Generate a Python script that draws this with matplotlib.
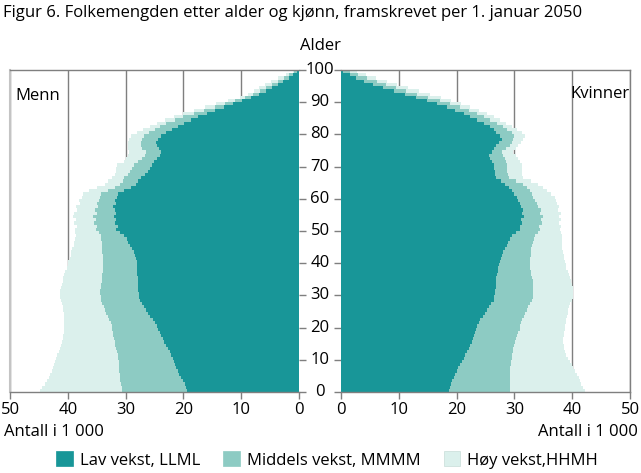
import numpy as np
import matplotlib
matplotlib.use("Agg")
import matplotlib.pyplot as plt
from matplotlib.patches import Patch
from matplotlib.transforms import blended_transform_factory

plt.rcParams['font.family'] = ['Open Sans', 'DejaVu Sans']

# alder 0-99, antall i 1 000
ages = np.arange(100)

menn_lav = [
    19.4, 19.6, 19.8, 20.1, 20.4, 20.7, 21.0, 21.2, 21.4, 21.6,
    21.8, 22.1, 22.4, 22.7, 23.0, 23.3, 23.6, 23.9, 24.1, 24.4,
    24.6, 24.9, 25.3, 25.7, 26.1, 26.5, 26.9, 27.2, 27.5, 27.6,
    27.7, 27.8, 27.8, 27.8, 27.9, 27.9, 28.0, 28.0, 28.0, 28.1,
    28.1, 28.2, 28.4, 28.6, 28.9, 29.2, 29.5, 29.8, 30.2, 30.9,
    31.6, 31.4, 31.8, 31.6, 32.0, 31.7, 31.9, 32.1, 31.6, 31.8,
    31.5, 31.3, 30.2, 29.0, 28.2, 27.8, 27.4, 26.6, 26.2, 25.8,
    25.5, 25.1, 24.6, 24.1, 23.9, 24.2, 24.6, 24.7, 24.4, 23.9,
    23.0, 22.0, 21.0, 19.9, 18.7, 17.4, 16.0, 14.5, 13.0, 11.4,
    9.8, 8.3, 6.9, 5.7, 4.6, 3.6, 2.7, 1.8, 1.1, 0.4]
menn_middels = [
    30.6, 30.7, 30.8, 30.9, 31.0, 31.0, 31.1, 31.1, 31.2, 31.2,
    31.3, 31.4, 31.5, 31.6, 31.8, 31.9, 32.0, 32.1, 32.2, 32.3,
    32.4, 32.6, 32.8, 33.1, 33.4, 33.6, 33.8, 34.0, 34.2, 34.3,
    34.4, 34.4, 34.3, 34.2, 34.1, 34.0, 34.0, 33.9, 33.9, 33.9,
    33.9, 33.9, 33.9, 34.0, 34.0, 34.1, 34.1, 34.2, 34.3, 34.6,
    35.2, 34.9, 35.5, 35.2, 35.6, 35.0, 35.3, 34.8, 35.0, 34.6,
    34.4, 34.2, 33.0, 31.9, 31.0, 30.5, 30.3, 29.5, 29.2, 28.9,
    28.6, 27.8, 27.2, 26.6, 26.5, 27.2, 27.4, 27.3, 27.1, 26.8,
    25.9, 25.0, 24.0, 23.0, 21.5, 20.0, 18.2, 16.4, 14.6, 12.8,
    11.0, 9.4, 8.0, 6.8, 5.7, 4.6, 3.6, 2.6, 1.7, 0.8]
menn_hoy = [
    44.8, 44.4, 44.0, 43.6, 43.3, 43.0, 42.8, 42.6, 42.4, 42.2,
    42.0, 41.8, 41.6, 41.4, 41.2, 41.0, 40.9, 40.8, 40.7, 40.6,
    40.6, 40.6, 40.6, 40.7, 40.7, 40.8, 40.9, 41.0, 41.2, 41.3,
    41.3, 41.3, 41.2, 41.0, 40.9, 40.8, 40.6, 40.4, 40.2, 40.0,
    39.9, 39.7, 39.5, 39.4, 39.2, 39.0, 38.9, 38.7, 38.6, 38.7,
    38.8, 38.4, 39.0, 38.6, 39.1, 38.9, 38.4, 38.6, 37.9, 38.0,
    37.5, 37.3, 36.4, 35.0, 33.6, 33.0, 32.4, 31.8, 31.7, 31.6,
    31.5, 30.3, 29.9, 29.6, 29.4, 29.5, 29.6, 29.5, 29.4, 29.0,
    28.1, 27.0, 25.8, 24.6, 23.2, 21.6, 20.0, 18.2, 16.3, 14.3,
    12.2, 10.2, 8.8, 7.8, 6.9, 5.9, 4.9, 3.6, 2.3, 1.0]

kvinner_lav = [
    18.6, 18.8, 19.0, 19.2, 19.5, 19.7, 20.0, 20.3, 20.6, 20.9,
    21.2, 21.5, 21.8, 22.1, 22.4, 22.6, 22.8, 23.0, 23.2, 23.4,
    23.5, 23.8, 24.1, 24.5, 24.9, 25.2, 25.6, 26.0, 26.4, 26.5,
    26.6, 26.7, 26.8, 26.9, 26.9, 26.9, 27.0, 27.1, 27.2, 27.4,
    27.5, 27.7, 27.9, 28.1, 28.4, 28.7, 28.9, 29.2, 29.5, 30.3,
    31.0, 30.9, 31.4, 31.2, 31.6, 31.3, 31.5, 31.1, 31.0, 30.7,
    30.4, 30.0, 29.5, 29.0, 28.4, 27.7, 26.9, 26.7, 26.6, 26.5,
    26.4, 26.1, 25.8, 25.6, 26.1, 26.5, 26.9, 27.3, 27.8, 27.5,
    26.9, 26.4, 25.8, 24.7, 23.5, 22.4, 21.2, 19.8, 18.3, 16.6,
    14.8, 13.0, 11.1, 9.2, 7.3, 5.5, 3.9, 2.6, 1.6, 0.4]
kvinner_middels = [
    29.2, 29.2, 29.2, 29.2, 29.2, 29.2, 29.3, 29.3, 29.4, 29.4,
    29.5, 29.6, 29.7, 29.8, 30.0, 30.1, 30.3, 30.5, 30.7, 30.9,
    31.0, 31.2, 31.4, 31.7, 31.9, 32.1, 32.4, 32.7, 33.0, 33.2,
    33.3, 33.3, 33.3, 33.3, 33.2, 33.0, 32.9, 32.8, 32.7, 32.7,
    32.7, 32.7, 32.8, 32.8, 32.9, 33.0, 33.2, 33.4, 33.6, 34.0,
    34.4, 34.2, 34.8, 34.6, 34.9, 34.4, 34.6, 34.1, 33.9, 33.6,
    33.3, 33.0, 32.7, 32.1, 31.5, 30.3, 29.0, 28.9, 28.8, 28.7,
    28.7, 28.5, 28.4, 28.1, 27.8, 28.6, 29.2, 29.5, 29.8, 29.9,
    29.5, 28.8, 28.1, 27.0, 25.8, 24.7, 23.5, 22.1, 20.6, 18.9,
    17.1, 15.1, 13.1, 11.3, 9.6, 7.8, 6.2, 4.5, 3.0, 1.6]
kvinner_hoy = [
    42.2, 41.9, 41.6, 41.3, 41.1, 40.8, 40.5, 40.2, 39.9, 39.6,
    39.3, 39.0, 38.8, 38.6, 38.5, 38.4, 38.4, 38.5, 38.6, 38.7,
    38.8, 38.9, 39.0, 39.1, 39.2, 39.3, 39.5, 39.7, 39.9, 40.1,
    40.2, 40.2, 40.1, 39.9, 39.8, 39.6, 39.4, 39.2, 39.0, 38.9,
    38.8, 38.6, 38.5, 38.4, 38.3, 38.2, 38.2, 38.2, 38.2, 38.0,
    37.9, 38.1, 37.8, 38.1, 37.8, 38.0, 37.6, 37.7, 37.3, 37.2,
    37.0, 36.3, 35.6, 34.9, 34.1, 32.8, 31.5, 31.4, 31.4, 31.3,
    31.3, 31.0, 30.7, 30.2, 29.8, 30.2, 30.7, 31.1, 31.5, 31.8,
    31.3, 30.4, 29.5, 28.5, 27.5, 26.4, 25.2, 23.8, 22.3, 20.8,
    19.1, 17.3, 15.4, 13.5, 11.6, 9.7, 7.9, 6.1, 4.4, 2.7]

serier = ["Lav vekst, LLML", "Middels vekst, MMMM", "Høy vekst,HHMH"]
farger = ["#189698", "#8dcbc3", "#dbf0ec"]
x_ticks = [0, 10, 20, 30, 40, 50]
age_ticks = [0, 10, 20, 30, 40, 50, 60, 70, 80, 90, 100]

grey = "#7f7f7f"
fs = 12

fig = plt.figure(figsize=(6.41, 4.73), dpi=100)
ax_m = fig.add_axes([10 / 641, 81 / 473, 289 / 641, 322 / 473])
ax_k = fig.add_axes([341 / 641, 81 / 473, 289 / 641, 322 / 473])

edges = np.arange(101)
for ax, data in ((ax_m, (menn_hoy, menn_middels, menn_lav)),
                 (ax_k, (kvinner_hoy, kvinner_middels, kvinner_lav))):
    for vals, col in zip(data, farger[::-1]):
        ax.stairs(vals, edges, orientation='horizontal', fill=True,
                  color=col, baseline=0, zorder=2)
    ax.set_ylim(0, 100)
    ax.set_xticks(x_ticks)
    ax.set_xticklabels([str(t) for t in x_ticks], fontsize=fs)
    ax.set_yticks(age_ticks)
    ax.set_yticklabels([])
    ax.set_axisbelow(True)
    ax.xaxis.grid(True, color=grey, lw=1)
    ax.tick_params(axis='both', length=5, width=1, color=grey, pad=2)
    for s in ax.spines.values():
        s.set_color(grey)
        s.set_linewidth(1)

ax_m.set_xlim(50, 0)
ax_k.set_xlim(0, 50)
ax_m.yaxis.tick_right()
ax_m.spines['right'].set_visible(False)
ax_m.spines['left'].set_color("#c4c4c4")
ax_m.spines['left'].set_linewidth(1.5)
ax_k.spines['left'].set_visible(False)

# alder-etiketter midt mellom panelene
tr = blended_transform_factory(ax_m.transAxes, ax_m.transData)
for a in age_ticks:
    ax_m.text((320 - 10) / 289, a, str(a), transform=tr, ha='center',
              va='center', fontsize=fs, clip_on=False)
ax_m.text((320 - 10) / 289, 107.5, "Alder", transform=tr, ha='center',
          va='center', fontsize=fs, clip_on=False)

ax_m.text(0.02, 0.92, "Menn", transform=ax_m.transAxes, fontsize=fs,
          ha='left', va='center')
ax_k.text(1.0, 0.925, "Kvinner", transform=ax_k.transAxes, fontsize=fs,
          ha='right', va='center')

fig.text(4 / 641, 1 - 432 / 473, "Antall i 1 000", fontsize=fs,
         ha='left', va='center')
fig.text(638 / 641, 1 - 432 / 473, "Antall i 1 000", fontsize=fs,
         ha='right', va='center')

fig.text(3 / 641, 1 - 13 / 473,
         "Figur 6. Folkemengden etter alder og kjønn, framskrevet per 1. januar 2050",
         fontsize=fs, ha='left', va='center')

handles = [Patch(facecolor=c, edgecolor=c if i < 2 else "#c8dcd8", lw=0.5)
           for i, c in enumerate(farger)]
fig.legend(handles, serier, loc='center', bbox_to_anchor=(327 / 641, 1 - 460 / 473),
           ncol=3, frameon=False, fontsize=fs, handlelength=1.0, handleheight=1.0,
           handletextpad=0.4, columnspacing=1.4, borderaxespad=0)

fig.savefig("out.png", dpi=100)
